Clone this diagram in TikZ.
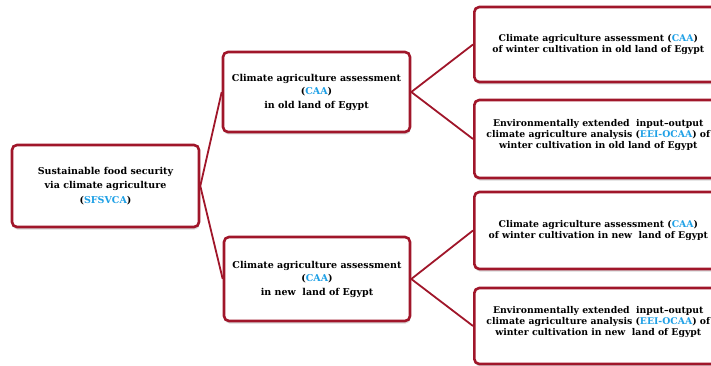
\documentclass[tikz,border=0pt]{standalone}
\usepackage{fontspec}
\setmainfont{DejaVu Serif}
\usetikzlibrary{positioning, shadows, backgrounds}
\definecolor{boxred}{RGB}{160,22,42}
\definecolor{acroblue}{RGB}{30,160,230}

\tikzset{
    card/.style={draw=boxred, line width=2.6pt, fill=white, rounded corners=5pt,
        align=center, font=\bfseries\fontsize{9.3}{11}\selectfont, inner sep=2pt,
        drop shadow={shadow xshift=0.5pt, shadow yshift=-2.5pt, fill=black!30, opacity=0.5}},
    link/.style={draw=boxred, line width=1.8pt}
}
\newcommand{\acro}[1]{\textcolor{acroblue}{#1}}

\begin{document}
\begin{tikzpicture}[x=1pt, y=-1pt]
    \useasboundingbox (0,0) rectangle (711,366);

    % Root
    \node[card, minimum width=187pt, minimum height=82pt, font=\bfseries\fontsize{9.5}{14.5}\selectfont]
        (sfs) at (105.5,186) {Sustainable food security\\ via climate agriculture\\ (\acro{SFSVCA})};

    % Middle level
    \node[card, minimum width=187pt, minimum height=80pt, font=\bfseries\fontsize{9.5}{13.5}\selectfont]
        (oldland) at (316.5,92) {Climate agriculture assessment\\ (\acro{CAA})\\ in old land of Egypt};
    \node[card, minimum width=186pt, minimum height=84pt, font=\bfseries\fontsize{9.5}{13.5}\selectfont]
        (newland) at (317,279) {Climate agriculture assessment\\ (\acro{CAA})\\ in new\ \ land of Egypt};

    % Right level
    \node[card, minimum width=248pt, minimum height=75pt, anchor=west]
        (oldcaa) at (473,44.5) {Climate agriculture assessment (\acro{CAA})\\ of winter cultivation in old land of Egypt};
    \node[card, minimum width=248pt, minimum height=78pt, anchor=west]
        (oldeei) at (473,139) {Environmentally extended\ \ input--output\\ climate agriculture analysis (\acro{EEI-OCAA}) of\\ winter cultivation in old land of Egypt\\[-1pt]};
    \node[card, minimum width=248pt, minimum height=77pt, anchor=west]
        (newcaa) at (473,230.5) {Climate agriculture assessment (\acro{CAA})\\ of winter cultivation in new\ \ land of Egypt};
    \node[card, minimum width=248pt, minimum height=76pt, anchor=west]
        (neweei) at (473,326) {Environmentally extended\ \ input--output\\ climate agriculture analysis (\acro{EEI-OCAA}) of\\ winter cultivation in new\ \ land of Egypt\\[-1pt]};

    % Connectors
    \begin{scope}[on background layer]
    \foreach \from/\to in {sfs/oldland, sfs/newland, oldland/oldcaa, oldland/oldeei, newland/newcaa, newland/neweei} {
        \draw[link] (\from.east) -- (\to.west);
    }
    \end{scope}
\end{tikzpicture}
\end{document}
